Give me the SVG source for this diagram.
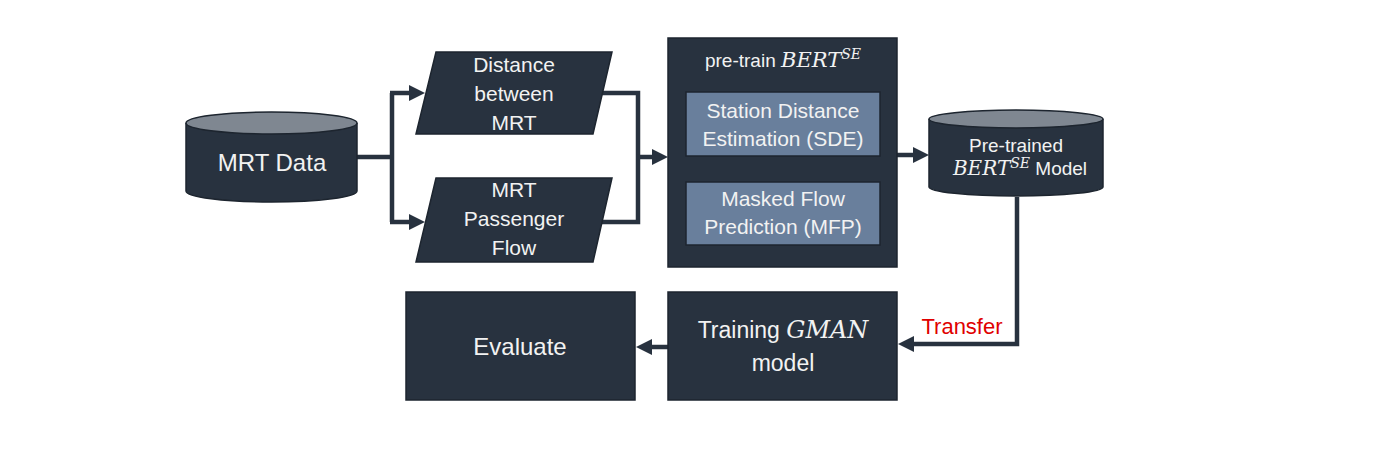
<svg xmlns="http://www.w3.org/2000/svg" width="1386" height="473" viewBox="0 0 1386 473">
<style>
.shape{fill:#28323f;stroke:#1d252f;stroke-width:1.5}
.ctop{fill:#7f8791;stroke:#1d252f;stroke-width:1.5}
.inner{fill:#697f9c;stroke:#1d252f;stroke-width:1.5}
.t{font-family:"Liberation Sans",Arial,sans-serif;fill:#f2f2f2;text-anchor:middle}
.m{font-family:"DejaVu Serif","Liberation Serif",serif;font-style:italic}
.conn{fill:none;stroke:#28323f;stroke-width:4.5;marker-end:url(#ah)}
.line{fill:none;stroke:#28323f;stroke-width:4.5}
.red{font-family:"Liberation Sans",Arial,sans-serif;fill:#e00000;font-size:22px}
</style>
<defs>
<marker id="ah" viewBox="0 0 16 16" refX="8" refY="8" markerWidth="16" markerHeight="16" markerUnits="userSpaceOnUse" orient="auto">
<path d="M0,0 L16,8 L0,16 z" fill="#28323f"/>
</marker>
</defs>
<rect width="1386" height="473" fill="#ffffff"/>

<g id="connectors">
<path class="line" d="M357,157 H392 M392,93 V222"/>
<path class="conn" d="M390,93 H417"/>
<path class="conn" d="M390,222 H417"/>
<path class="line" d="M602,93 H638 V222 H602"/>
<path class="conn" d="M636,157 H660"/>
<path class="conn" d="M897,155 H921"/>
<path class="conn" d="M1017,197 V344 H906"/>
<path class="conn" d="M668,347 H644"/>
<text class="red" x="962" y="334" text-anchor="middle">Transfer</text>
</g>

<g id="mrt-data">
<path class="shape" d="M186,123 V191 A85.5,11 0 0 0 357,191 V123"/>
<ellipse class="ctop" cx="271.5" cy="123" rx="85.5" ry="11"/>
<text class="t" x="272" y="171" font-size="24">MRT Data</text>
</g>

<g id="distance">
<polygon class="shape" points="436,52 612,52 593,134 416,134"/>
<text class="t" x="514" y="72" font-size="21">Distance</text>
<text class="t" x="514" y="101" font-size="21">between</text>
<text class="t" x="514" y="130" font-size="21">MRT</text>
</g>

<g id="passenger">
<polygon class="shape" points="436,178 612,178 593,262 416,262"/>
<text class="t" x="514" y="197" font-size="21">MRT</text>
<text class="t" x="514" y="226" font-size="21">Passenger</text>
<text class="t" x="514" y="255" font-size="21">Flow</text>
</g>

<g id="pretrain">
<rect class="shape" x="668" y="38" width="229" height="229"/>
<text class="t" x="783" y="67" font-size="19">pre-train <tspan class="m" font-size="21">BERT</tspan><tspan class="m" font-size="14" dy="-8">SE</tspan></text>
<g id="sde">
<rect class="inner" x="686" y="92" width="194" height="64"/>
<text class="t" x="783" y="118" font-size="21">Station Distance</text>
<text class="t" x="783" y="146" font-size="21">Estimation (SDE)</text>
</g>
<g id="mfp">
<rect class="inner" x="686" y="182" width="194" height="63"/>
<text class="t" x="783" y="206" font-size="21">Masked Flow</text>
<text class="t" x="783" y="234" font-size="21">Prediction (MFP)</text>
</g>
</g>

<g id="pretrained-model">
<path class="shape" d="M929,119 V187 A87,9 0 0 0 1103,187 V119"/>
<ellipse class="ctop" cx="1016" cy="119" rx="87" ry="9"/>
<text class="t" x="1016" y="152" font-size="19">Pre-trained</text>
<text class="t" x="1020" y="175" font-size="19"><tspan class="m" font-size="20">BERT</tspan><tspan class="m" font-size="14" dy="-7">SE</tspan><tspan dy="7"> Model</tspan></text>
</g>

<g id="training">
<rect class="shape" x="668" y="292" width="229" height="108"/>
<text class="t" x="783" y="338" font-size="23">Training <tspan class="m" font-size="24">GMAN</tspan></text>
<text class="t" x="783" y="371" font-size="23">model</text>
</g>

<g id="evaluate">
<rect class="shape" x="406" y="292" width="229" height="108"/>
<text class="t" x="520" y="355" font-size="24">Evaluate</text>
</g>
</svg>
